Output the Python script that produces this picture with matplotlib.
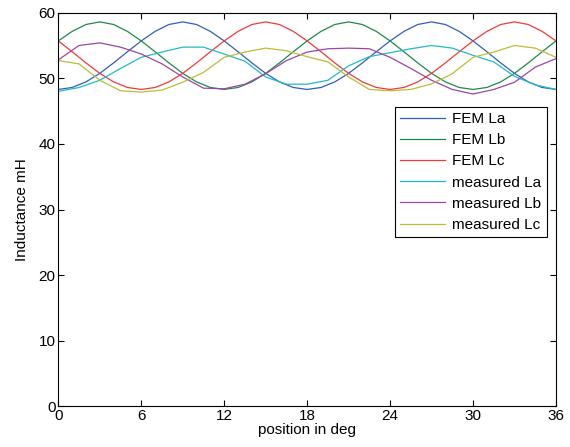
import matplotlib
matplotlib.use('Agg')
import matplotlib.pyplot as plt

plt.rcParams['font.family'] = ['Liberation Sans', 'DejaVu Sans']

# FEM results, 1 deg steps
fem_pos = list(range(0, 37))
fem_la = [48.30, 48.60, 49.45, 50.75, 52.35, 54.05, 55.70, 57.15, 58.20, 58.60,
          58.20, 57.15, 55.70, 54.05, 52.35, 50.75, 49.45, 48.60, 48.30, 48.60,
          49.45, 50.75, 52.35, 54.05, 55.70, 57.15, 58.20, 58.60, 58.20, 57.15,
          55.70, 54.05, 52.35, 50.75, 49.45, 48.60, 48.30]
fem_lb = [55.70, 57.15, 58.20, 58.60, 58.20, 57.15, 55.70, 54.05, 52.35, 50.75,
          49.45, 48.60, 48.30, 48.60, 49.45, 50.75, 52.35, 54.05, 55.70, 57.15,
          58.20, 58.60, 58.20, 57.15, 55.70, 54.05, 52.35, 50.75, 49.45, 48.60,
          48.30, 48.60, 49.45, 50.75, 52.35, 54.05, 55.70]
fem_lc = [55.70, 54.05, 52.35, 50.75, 49.45, 48.60, 48.30, 48.60, 49.45, 50.75,
          52.35, 54.05, 55.70, 57.15, 58.20, 58.60, 58.20, 57.15, 55.70, 54.05,
          52.35, 50.75, 49.45, 48.60, 48.30, 48.60, 49.45, 50.75, 52.35, 54.05,
          55.70, 57.15, 58.20, 58.60, 58.20, 57.15, 55.70]

# measurements, 1.5 deg steps
meas_pos = [0, 1.5, 3, 4.5, 6, 7.5, 9, 10.5, 12, 13.5, 15, 16.5, 18,
            19.5, 21, 22.5, 24, 25.5, 27, 28.5, 30, 31.5, 33, 34.5, 36]
meas_la = [48.0, 48.6, 49.7, 51.5, 53.2, 54.0, 54.75, 54.75, 53.7, 52.6, 50.2, 49.1, 49.1,
           49.7, 51.9, 53.3, 53.9, 54.5, 55.0, 54.6, 53.5, 52.5, 50.3, 49.0, 48.3]
meas_lb = [52.8, 55.0, 55.4, 54.75, 53.7, 52.2, 50.2, 48.5, 48.4, 49.1, 50.7, 52.7, 54.0,
           54.5, 54.6, 54.5, 53.2, 51.5, 49.7, 48.3, 47.6, 48.3, 49.4, 51.7, 53.0]
meas_lc = [52.7, 52.2, 49.7, 48.1, 47.9, 48.2, 49.4, 50.9, 53.2, 54.0, 54.6, 54.2, 53.3,
           52.5, 50.2, 48.3, 48.1, 48.3, 49.15, 50.7, 53.2, 54.0, 55.0, 54.6, 53.2]

fig = plt.figure(figsize=(5.7, 4.47), dpi=100)
ax = fig.add_axes([0.1023, 0.091, 0.8731, 0.8806])

lw = 0.9
ax.plot(fem_pos, fem_la, color='#2f5fbf', lw=lw, label='FEM La')
ax.plot(fem_pos, fem_lb, color='#1e8a4a', lw=lw, label='FEM Lb')
ax.plot(fem_pos, fem_lc, color='#f03a3a', lw=lw, label='FEM Lc')
ax.plot(meas_pos, meas_la, color='#1fbcc2', lw=lw, label='measured La')
ax.plot(meas_pos, meas_lb, color='#9a45a8', lw=lw, label='measured Lb')
ax.plot(meas_pos, meas_lc, color='#bcbc38', lw=lw, label='measured Lc')

ax.set_xlim(0, 36)
ax.set_ylim(0, 60)
ax.set_xticks(range(0, 37, 6))
ax.set_yticks(range(0, 61, 10))
ax.tick_params(direction='in', top=True, right=True, length=4, labelsize=11,
               width=0.8, pad=2)
for s in ax.spines.values():
    s.set_linewidth(0.8)
ax.set_xlabel('position in deg', fontsize=11, labelpad=0)
ax.set_ylabel('Inductance mH', fontsize=11, labelpad=7)

leg = ax.legend(loc='upper right', bbox_to_anchor=(0.981, 0.761), fontsize=11,
                frameon=True, fancybox=False, framealpha=1, edgecolor='black',
                handlelength=2.95, labelspacing=0.47, borderpad=0.35, handletextpad=0.45,
                borderaxespad=0)
leg.get_frame().set_linewidth(0.8)

fig.savefig('out.png', dpi=100, facecolor='white')
